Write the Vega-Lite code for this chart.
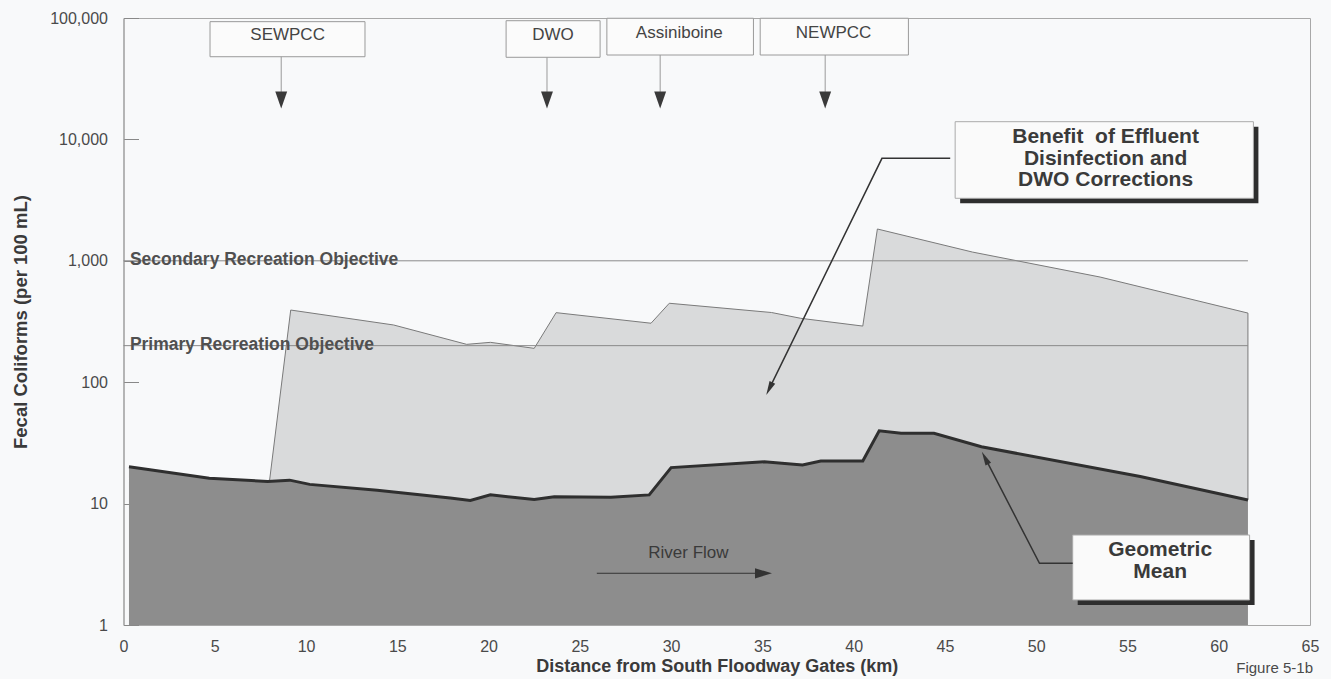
{
  "$schema": "https://vega.github.io/schema/vega-lite/v6.json",
  "width": 1186.5,
  "height": 607,
  "autosize": {"type": "none"},
  "padding": {"left": 123.5, "top": 18, "right": 21, "bottom": 54},
  "background": "#f8f9fa",
  "config": {"view": {"stroke": "#a8a8a8", "strokeWidth": 1}, "font": "Liberation Sans"},
  "datasets": {
    "geo": [
      {"km": 0.3, "v": 20.1}, {"km": 4.7, "v": 16.2}, {"km": 7.9, "v": 15.2}, {"km": 9.1, "v": 15.6},
      {"km": 10.2, "v": 14.4}, {"km": 13.9, "v": 12.9}, {"km": 17.9, "v": 11.1}, {"km": 19.0, "v": 10.6},
      {"km": 20.1, "v": 11.8}, {"km": 22.5, "v": 10.8}, {"km": 23.6, "v": 11.4}, {"km": 26.7, "v": 11.3},
      {"km": 28.8, "v": 11.8}, {"km": 30.0, "v": 19.8}, {"km": 35.1, "v": 22.1}, {"km": 37.2, "v": 20.8},
      {"km": 38.2, "v": 22.4}, {"km": 40.5, "v": 22.4}, {"km": 41.4, "v": 39.8}, {"km": 42.6, "v": 38.0},
      {"km": 44.4, "v": 37.9}, {"km": 47.0, "v": 29.4}, {"km": 55.7, "v": 16.7}, {"km": 61.6, "v": 10.7}
    ],
    "upper": [
      {"o": 1, "km": 8.0, "v": 15.4}, {"o": 2, "km": 9.16, "v": 393}, {"o": 3, "km": 14.8, "v": 296},
      {"o": 4, "km": 18.8, "v": 205}, {"o": 5, "km": 20.1, "v": 213}, {"o": 6, "km": 22.5, "v": 190},
      {"o": 7, "km": 23.7, "v": 374}, {"o": 8, "km": 28.9, "v": 306}, {"o": 9, "km": 29.9, "v": 447},
      {"o": 10, "km": 35.5, "v": 375}, {"o": 11, "km": 37.1, "v": 336}, {"o": 12, "km": 40.5, "v": 290},
      {"o": 13, "km": 41.3, "v": 1828}, {"o": 14, "km": 46.5, "v": 1181}, {"o": 15, "km": 53.5, "v": 735},
      {"o": 16, "km": 61.6, "v": 371}, {"o": 17, "km": 61.6, "v": 10.7}
    ],
    "obj": [
      {"name": "Secondary Recreation Objective", "v": 1000},
      {"name": "Primary Recreation Objective", "v": 200}
    ],
    "sources": [
      {"name": "SEWPCC", "x1": 4.74, "x2": 13.23, "yt": 93300, "yb": 47980, "xm": 8.99, "ym": 71800, "ax": 8.64},
      {"name": "DWO", "x1": 20.96, "x2": 26.11, "yt": 95000, "yb": 47460, "xm": 23.53, "ym": 71800, "ax": 23.2},
      {"name": "Assiniboine", "x1": 26.48, "x2": 34.51, "yt": 99500, "yb": 49560, "xm": 30.45, "ym": 74800, "ax": 29.4},
      {"name": "NEWPCC", "x1": 34.88, "x2": 43.0, "yt": 99500, "yb": 49560, "xm": 38.9, "ym": 74800, "ax": 38.44}
    ],
    "lboxes": [
      {"name": "benefit", "x1": 45.56, "x2": 61.9, "yt": 13990, "yb": 3273},
      {"name": "geomean", "x1": 52.0, "x2": 61.69, "yt": 5.51, "yb": 1.607}
    ],
    "ltext": [
      {"t": "Benefit\u00a0 of Effluent", "x": 53.8, "y": 10520},
      {"t": "Disinfection and", "x": 53.8, "y": 6855},
      {"t": "DWO Corrections", "x": 53.8, "y": 4631},
      {"t": "Geometric", "x": 56.79, "y": 4.15},
      {"t": "Mean", "x": 56.79, "y": 2.75}
    ],
    "leaders": [
      {"g": "b", "o": 1, "x": 45.29, "y": 6983},
      {"g": "b", "o": 2, "x": 41.55, "y": 6983},
      {"g": "b", "o": 3, "x": 35.38, "y": 88.4},
      {"g": "g", "o": 1, "x": 52.0, "y": 3.22},
      {"g": "g", "o": 2, "x": 50.18, "y": 3.22},
      {"g": "g", "o": 3, "x": 47.2, "y": 23.8}
    ]
  },
  "layer": [
    {
      "data": {"name": "upper"},
      "transform": [{"filter": "datum.o < 17"}],
      "mark": {"type": "area", "color": "#d9dadb", "opacity": 1},
      "encoding": {
        "x": {"field": "km", "type": "quantitative", "scale": {"domain": [0, 65], "nice": false},
          "axis": {"title": "Distance from South Floodway Gates (km)", "values": [0,5,10,15,20,25,30,35,40,45,50,55,60,65],
            "grid": false, "ticks": false, "domain": false, "labelFontSize": 16, "labelColor": "#4a4a4a",
            "labelPadding": 13, "labelFlush": false, "labelOverlap": false,
            "titleFontSize": 18, "titleFontWeight": "bold", "titleColor": "#3a3a3a", "titlePadding": 3}},
        "y": {"field": "v", "type": "quantitative", "scale": {"type": "log", "domain": [1, 100000], "nice": false},
          "axis": {"title": "Fecal Coliforms (per 100 mL)", "values": [1,10,100,1000,10000,100000], "format": ",",
            "grid": false, "tickSize": -15, "tickColor": "#888888", "domainColor": "#999999",
            "labelFontSize": 16, "labelPadding": 31, "labelColor": "#4a4a4a", "labelOverlap": false, "labelFlush": false,
            "titleFontSize": 18.5, "titleFontWeight": "bold", "titleColor": "#3a3a3a", "titlePadding": 19}},
        "y2": {"datum": 1}
      }
    },
    {
      "data": {"name": "upper"},
      "mark": {"type": "line", "color": "#7a7a7a", "strokeWidth": 1},
      "encoding": {
        "x": {"field": "km", "type": "quantitative"},
        "y": {"field": "v", "type": "quantitative"},
        "order": {"field": "o", "type": "quantitative"}
      }
    },
    {
      "data": {"name": "obj"},
      "mark": {"type": "rule", "color": "#8a8a8a", "strokeWidth": 1},
      "encoding": {
        "x": {"datum": 0},
        "x2": {"datum": 61.6},
        "y": {"field": "v", "type": "quantitative"}
      }
    },
    {
      "data": {"name": "geo"},
      "mark": {"type": "area", "color": "#8d8d8d"},
      "encoding": {
        "x": {"field": "km", "type": "quantitative"},
        "y": {"field": "v", "type": "quantitative"},
        "y2": {"datum": 1}
      }
    },
    {
      "data": {"name": "geo"},
      "mark": {"type": "line", "color": "#2f2f2f", "strokeWidth": 3},
      "encoding": {
        "x": {"field": "km", "type": "quantitative"},
        "y": {"field": "v", "type": "quantitative"}
      }
    },
    {
      "data": {"name": "obj"},
      "mark": {"type": "text", "align": "left", "baseline": "middle", "dy": -1, "fontSize": 17.5, "fontWeight": "bold", "color": "#505050"},
      "encoding": {
        "x": {"datum": 0.35},
        "y": {"field": "v", "type": "quantitative"},
        "text": {"field": "name", "type": "nominal"}
      }
    },
    {
      "data": {"name": "sources"},
      "mark": {"type": "rect", "fill": "#fbfbfb", "stroke": "#9a9a9a", "strokeWidth": 1},
      "encoding": {
        "x": {"field": "x1", "type": "quantitative"},
        "x2": {"field": "x2"},
        "y": {"field": "yt", "type": "quantitative"},
        "y2": {"field": "yb"}
      }
    },
    {
      "data": {"name": "sources"},
      "mark": {"type": "text", "align": "center", "baseline": "middle", "fontSize": 17, "color": "#444444"},
      "encoding": {
        "x": {"field": "xm", "type": "quantitative"},
        "y": {"field": "ym", "type": "quantitative"},
        "text": {"field": "name", "type": "nominal"}
      }
    },
    {
      "data": {"name": "sources"},
      "mark": {"type": "rule", "color": "#9a9a9a", "strokeWidth": 1},
      "encoding": {
        "x": {"field": "ax", "type": "quantitative"},
        "y": {"field": "yb", "type": "quantitative"},
        "y2": {"datum": 24600}
      }
    },
    {
      "data": {"name": "sources"},
      "mark": {"type": "point", "shape": "M-0.7,-1L0.7,-1L0,1Z", "size": 289, "filled": true, "color": "#3a3a3a", "opacity": 1},
      "encoding": {
        "x": {"field": "ax", "type": "quantitative"},
        "y": {"datum": 21100}
      }
    },
    {
      "data": {"name": "lboxes"},
      "mark": {"type": "rect", "fill": "#2e2e2e", "xOffset": 5, "x2Offset": 5, "yOffset": 5, "y2Offset": 5},
      "encoding": {
        "x": {"field": "x1", "type": "quantitative"},
        "x2": {"field": "x2"},
        "y": {"field": "yt", "type": "quantitative"},
        "y2": {"field": "yb"}
      }
    },
    {
      "data": {"name": "lboxes"},
      "mark": {"type": "rect", "fill": "#fafafa", "stroke": "#aaaaaa", "strokeWidth": 1},
      "encoding": {
        "x": {"field": "x1", "type": "quantitative"},
        "x2": {"field": "x2"},
        "y": {"field": "yt", "type": "quantitative"},
        "y2": {"field": "yb"}
      }
    },
    {
      "data": {"name": "ltext"},
      "mark": {"type": "text", "align": "center", "baseline": "middle", "fontSize": 21, "fontWeight": "bold", "color": "#3a3a3a"},
      "encoding": {
        "x": {"field": "x", "type": "quantitative"},
        "y": {"field": "y", "type": "quantitative"},
        "text": {"field": "t", "type": "nominal"}
      }
    },
    {
      "data": {"name": "leaders"},
      "mark": {"type": "line", "color": "#333333", "strokeWidth": 1.5},
      "encoding": {
        "x": {"field": "x", "type": "quantitative"},
        "y": {"field": "y", "type": "quantitative"},
        "detail": {"field": "g", "type": "nominal"},
        "order": {"field": "o", "type": "quantitative"}
      }
    },
    {
      "data": {"values": [{}]},
      "mark": {"type": "point", "shape": "M0,-1L0.45,1L-0.45,1Z", "size": 196, "filled": true, "color": "#333333", "opacity": 1, "angle": 206},
      "encoding": {"x": {"datum": 35.38}, "y": {"datum": 88.4}}
    },
    {
      "data": {"values": [{}]},
      "mark": {"type": "point", "shape": "M0,-1L0.45,1L-0.45,1Z", "size": 196, "filled": true, "color": "#333333", "opacity": 1, "angle": 332.7},
      "encoding": {"x": {"datum": 47.2}, "y": {"datum": 23.8}}
    },
    {
      "data": {"values": [{}]},
      "mark": {"type": "rule", "color": "#333333", "strokeWidth": 1},
      "encoding": {"x": {"datum": 25.93}, "x2": {"datum": 34.9}, "y": {"datum": 2.667}}
    },
    {
      "data": {"values": [{}]},
      "mark": {"type": "point", "shape": "M0,-1L0.6,1L-0.6,1Z", "size": 289, "filled": true, "color": "#333333", "opacity": 1, "angle": 90},
      "encoding": {"x": {"datum": 35.06}, "y": {"datum": 2.667}}
    },
    {
      "data": {"values": [{}]},
      "mark": {"type": "text", "align": "center", "baseline": "middle", "fontSize": 17, "color": "#3a3a3a", "text": "River Flow"},
      "encoding": {"x": {"datum": 30.95}, "y": {"datum": 3.92}}
    },
    {
      "data": {"values": [{}]},
      "mark": {"type": "text", "align": "right", "baseline": "middle", "fontSize": 15, "color": "#4a4a4a", "text": "Figure 5-1b", "dy": 43, "dx": 3},
      "encoding": {"x": {"datum": 65}, "y": {"datum": 1}}
    }
  ]
}
